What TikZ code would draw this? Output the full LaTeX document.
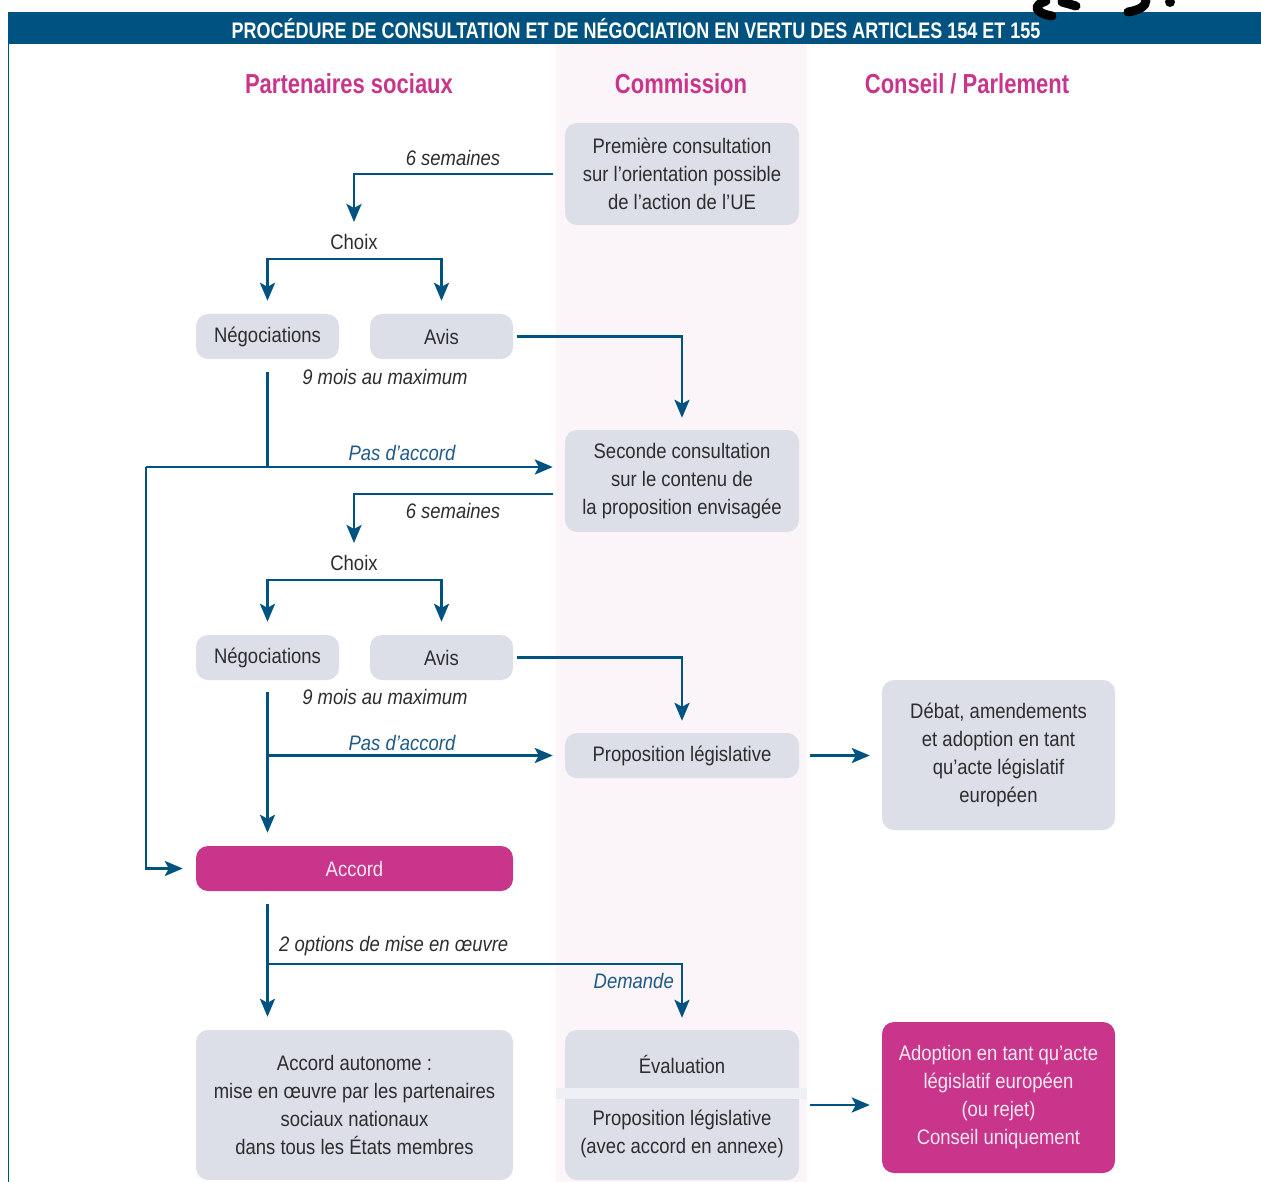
\documentclass[tikz,border=0pt]{standalone}
\usepackage{fontspec}
\setmainfont[FakeStretch=0.88]{Liberation Sans}
\newfontfamily\hdfont[FakeStretch=0.80]{Liberation Sans}
\usetikzlibrary{arrows.meta}
\definecolor{bluec}{RGB}{0,83,128}
\definecolor{pinkc}{RGB}{200,53,138}
\definecolor{boxgray}{RGB}{220,222,232}
\definecolor{bandc}{RGB}{239,240,246}
\definecolor{colbg}{RGB}{251,244,249}
\definecolor{txt}{RGB}{45,45,45}
\definecolor{pinktxt}{RGB}{250,232,243}
\definecolor{lblblue}{RGB}{30,90,135}
\tikzset{
  box/.style={fill=boxgray, rounded corners=12pt, draw=none, align=center, inner sep=0pt, text=txt,
    font=\fontsize{21}{28}\selectfont},
  pinkbox/.style={box, fill=pinkc, text=pinktxt},
  lbl/.style={inner sep=0pt, text=txt, font=\fontsize{21}{26}\selectfont\itshape},
  bluelbl/.style={lbl, text=lblblue},
  plain/.style={inner sep=0pt, text=txt, font=\fontsize{21}{26}\selectfont},
  colhead/.style={inner sep=0pt, text=pinkc, font=\hdfont\bfseries\fontsize{27.5}{32}\selectfont},
  conn/.style={draw=bluec, line width=2.8pt},
  arr/.style={conn, -{Stealth[length=18pt,width=15pt,inset=4pt]}},
  scrib/.style={draw=black, line width=9pt, line cap=round}
}
\begin{document}
\begin{tikzpicture}[x=1pt,y=-1pt]
\useasboundingbox (0,0) rectangle (1261,1182);
% backgrounds
\fill[colbg] (556,44) rectangle (807,1182);
\fill[bluec] (8,12) rectangle (1261,44);
\draw[bluec, line width=1.3pt] (8.5,44) -- (8.5,1182);
\node[inner sep=0pt, text=white, font=\hdfont\bfseries\fontsize{22.5}{26}\selectfont] (title) at (636,28.5)
  {PROCÉDURE DE CONSULTATION ET DE NÉGOCIATION EN VERTU DES ARTICLES 154 ET 155};
% scribble
\draw[scrib] (1046,1) .. controls (1033,5) and (1034,13) .. (1052,16);
\draw[scrib] (1062,2) -- (1076,6);
\draw[scrib] (1128,12) .. controls (1140,10) and (1146,6) .. (1146,0);
\fill[black] (1170,2) circle (5pt);
% column heads
\node[colhead] (h1) at (349,84) {Partenaires sociaux};
\node[colhead] (h2) at (681,84) {Commission};
\node[colhead] (h3) at (967,84) {Conseil / Parlement};
% boxes
\node[box, minimum width=234pt, minimum height=102pt] (p1) at (682,174)
  {Première consultation\\sur l’orientation possible\\de l’action de l’UE};
\node[plain] (choix1) at (354,242) {Choix};
\node[box, minimum width=143pt, minimum height=45pt] (neg1) at (267.5,336.5) {Négociations};
\node[box, minimum width=143pt, minimum height=45pt] (avis1) at (441.5,336.5) {Avis};
\node[box, minimum width=234pt, minimum height=102pt] (s2) at (682,481)
  {Seconde consultation\\sur le contenu de\\la proposition envisagée};
\node[plain] (choix2) at (354,563) {Choix};
\node[box, minimum width=143pt, minimum height=45pt] (neg2) at (267.5,657.5) {Négociations};
\node[box, minimum width=143pt, minimum height=45pt] (avis2) at (441.5,657.5) {Avis};
\node[box, minimum width=234pt, minimum height=45pt] (prop) at (682,755.5) {Proposition législative};
\node[box, minimum width=233pt, minimum height=150pt] (debat) at (998.5,755)
  {Débat, amendements\\et adoption en tant\\qu’acte législatif\\européen};
\node[pinkbox, minimum width=317pt, minimum height=45pt] (accord) at (354.5,868.5) {Accord};
\node[box, minimum width=317pt, minimum height=150pt] (auto) at (354.5,1105)
  {Accord autonome :\\mise en œuvre par les partenaires\\sociaux nationaux\\dans tous les États membres};
\node[box, minimum width=234pt, minimum height=150pt] (eval) at (682,1105) {};
\fill[bandc] (556,1088) rectangle (807,1098.5);
\node[plain] (evt1) at (682,1064) {Évaluation};
\node[plain, align=center, font=\fontsize{21}{28}\selectfont] (evt2) at (682,1134)
  {Proposition législative\\(avec accord en annexe)};
\node[pinkbox, minimum width=233pt, minimum height=151pt] (adopt) at (998.5,1097.5)
  {Adoption en tant qu’acte\\législatif européen\\(ou rejet)\\Conseil uniquement};
% labels
\node[lbl] (l1) at (453,158) {6 semaines};
\node[lbl] (l2) at (385,377) {9 mois au maximum};
\node[bluelbl] (l3) at (402,453) {Pas d’accord};
\node[lbl] (l4) at (453,511) {6 semaines};
\node[lbl] (l5) at (385,697) {9 mois au maximum};
\node[bluelbl] (l6) at (402,743) {Pas d’accord};
\node[lbl, anchor=west] (l7) at (279,946) {2 options de mise en œuvre};
\node[bluelbl, anchor=east] (l8) at (674,981) {Demande};
% coordinates
\coordinate (t1) at (354,222);
\coordinate (c1) at (354,259);
\coordinate (j1) at (267.5,467);
\coordinate (k1) at (146,467);
\coordinate (t2) at (354,543);
\coordinate (c2) at (354,580);
\coordinate (j2) at (267.5,755.5);
\coordinate (a0) at (267.5,904);
\coordinate (j3) at (267.5,964);
% connectors
\draw[arr] ([xshift=-12pt]p1.west) -| (t1);
\draw[arr, shorten >=13pt] (c1) -| (neg1.north);
\draw[arr, shorten >=13pt] (c1) -| (avis1.north);
\draw[arr, shorten >=12pt] ([xshift=4pt]avis1.east) -| (s2.north);
\draw[conn] ([yshift=-13pt]neg1.south) -- (j1);
\draw[arr] (k1) -- ([xshift=-12pt,yshift=14pt]s2.west);
\draw[arr] (k1) |- ([xshift=-13pt]accord.west);
\draw[arr] ([xshift=-12pt,yshift=-13pt]s2.west) -| (t2);
\draw[arr, shorten >=13pt] (c2) -| (neg2.north);
\draw[arr, shorten >=13pt] (c2) -| (avis2.north);
\draw[arr, shorten >=12pt] ([xshift=4pt]avis2.east) -| (prop.north);
\draw[arr, shorten >=13pt] ([yshift=-12pt]neg2.south) -- (neg2.south |- accord.north);
\draw[arr] (j2) -- ([xshift=-12pt]prop.west);
\draw[arr] ([xshift=11pt]prop.east) -- ([xshift=-12pt]debat.west |- prop.east);
\draw[arr, shorten >=13pt] (a0) -- (a0 |- auto.north);
\draw[arr, shorten >=12pt] (j3) -| (eval.north);
\draw[arr] ([xshift=11pt]eval.east) -- ([xshift=-12pt]adopt.west |- eval.east);
\end{tikzpicture}
\end{document}
